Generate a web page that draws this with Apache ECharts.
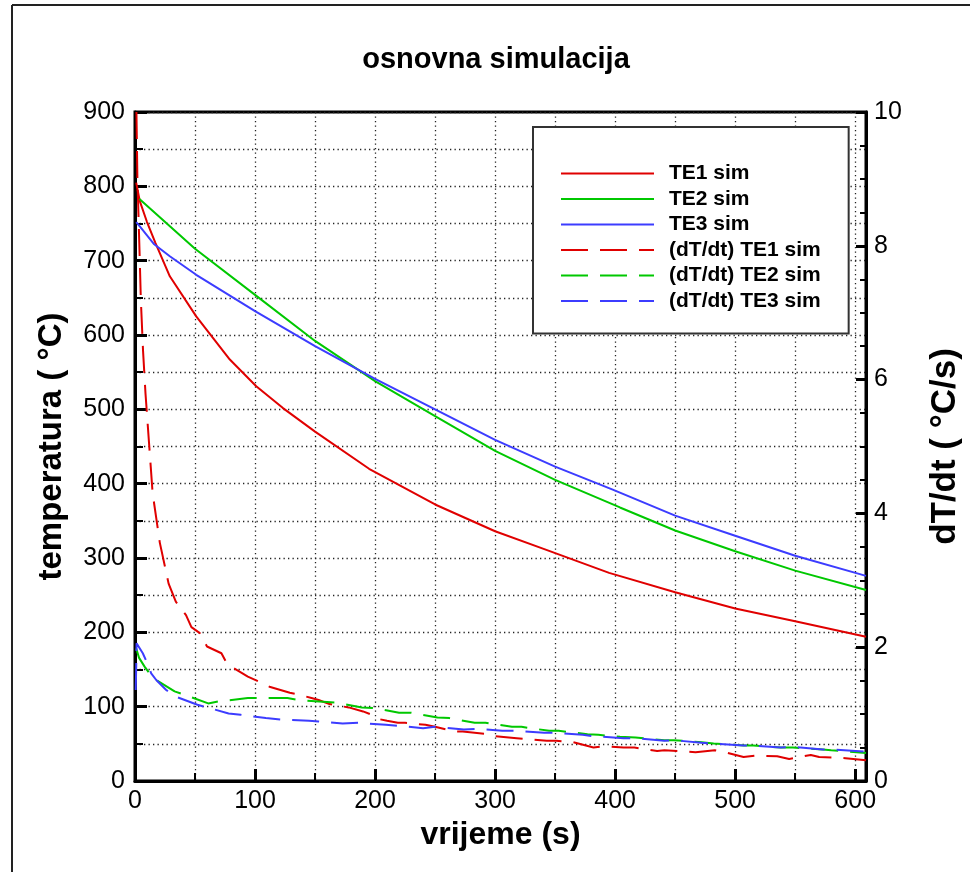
<!DOCTYPE html>
<html><head><meta charset="utf-8">
<script src="https://cdn.jsdelivr.net/npm/echarts@6/dist/echarts.min.js"></script>
<style>html,body{margin:0;padding:0;background:#fff}#c{width:970px;height:872px}</style>
</head><body><div id="c"></div>
<script>
// ---- data ----
const seriesNames = ['TE1 sim', 'TE2 sim', 'TE3 sim', '(dT/dt) TE1 sim', '(dT/dt) TE2 sim', '(dT/dt) TE3 sim'];
const xTicks = [0, 100, 200, 300, 400, 500, 600];
const yLeftTicks = [0, 100, 200, 300, 400, 500, 600, 700, 800, 900];
const yRightTicks = [0, 2, 4, 6, 8, 10];

const te1X = [1, 4, 10, 17, 29, 51, 79, 101, 123, 150, 195, 250, 300, 341, 395, 450, 500, 550, 609];
const te1Y = [805, 780, 752, 724, 679, 625, 567, 531, 502, 470, 420, 372, 336, 312, 280, 254, 232, 215, 194];

const te2X = [3.7, 50, 100, 150, 200, 250, 300, 350, 404, 450, 500, 550, 609];
const te2Y = [783, 716, 654, 592, 538, 491, 444, 405, 368, 337, 309, 283, 257];

const te3X = [1, 4, 16, 29, 51, 100, 150, 200, 250, 300, 350, 398, 450, 500, 550, 609];
const te3Y = [752, 746, 722, 706, 681, 632, 585, 541, 500, 459, 423, 392, 357, 330, 303, 276];

const d1X = [1.2, 2, 3, 3.75, 4.9, 6.7, 8.75, 11.7, 14.7, 20.7, 28, 34, 42.5, 47, 54, 60, 72, 77, 88.5, 94, 105, 112, 129, 137, 147, 153, 162, 168, 178, 190, 196, 202, 210, 219, 225, 242, 250, 266, 273, 294, 300, 318, 324, 343, 351, 365, 382, 390, 407, 416, 435, 441, 458, 467, 483, 489, 507, 517, 535, 545, 563, 570, 584, 592, 609];
const d1Y = [10, 9.0, 8.4, 7.93, 7.18, 6.43, 5.79, 5.05, 4.30, 3.56, 2.95, 2.68, 2.48, 2.30, 2.21, 2.01, 1.91, 1.74, 1.62, 1.56, 1.47, 1.41, 1.32, 1.29, 1.24, 1.21, 1.15, 1.13, 1.10, 1.04, 1.00, 0.93, 0.90, 0.87, 0.87, 0.84, 0.81, 0.74, 0.74, 0.70, 0.67, 0.64, 0.63, 0.60, 0.60, 0.58, 0.50, 0.52, 0.50, 0.50, 0.45, 0.46, 0.44, 0.43, 0.46, 0.44, 0.36, 0.38, 0.37, 0.33, 0.39, 0.36, 0.35, 0.34, 0.31];

const d2X = [1, 1.5, 3.4, 8, 12, 17.7, 33, 41, 61, 70, 94, 102, 127, 136, 160, 168, 189, 199, 220, 230, 252, 262, 283, 292, 314, 322, 345, 353, 377, 386, 404, 417, 441, 449, 472, 482, 507, 515, 538, 548, 573, 580, 609];
const d2Y = [1.98, 1.96, 1.84, 1.71, 1.61, 1.51, 1.34, 1.29, 1.16, 1.19, 1.24, 1.24, 1.24, 1.21, 1.18, 1.17, 1.10, 1.09, 1.02, 1.02, 0.95, 0.94, 0.87, 0.87, 0.81, 0.81, 0.75, 0.75, 0.70, 0.69, 0.66, 0.65, 0.61, 0.61, 0.58, 0.56, 0.53, 0.53, 0.50, 0.50, 0.47, 0.46, 0.42];

const d3X = [0.6, 1, 1.3, 6.5, 10.7, 13.5, 17.7, 26, 34, 52, 60, 78, 88, 109, 121, 145, 153, 173, 186, 209, 216, 240, 250, 274, 285, 306, 317, 341, 349, 373, 382, 407, 417, 441, 449, 472, 482, 507, 515, 538, 548, 573, 580, 609];
const d3Y = [1.36, 1.7, 2.06, 1.91, 1.74, 1.61, 1.51, 1.36, 1.26, 1.14, 1.10, 1.01, 0.99, 0.94, 0.92, 0.90, 0.89, 0.86, 0.87, 0.84, 0.83, 0.79, 0.81, 0.77, 0.78, 0.75, 0.75, 0.72, 0.72, 0.69, 0.67, 0.64, 0.64, 0.60, 0.61, 0.57, 0.56, 0.53, 0.53, 0.50, 0.51, 0.47, 0.47, 0.44];

// ---- chart ----
function pairs(xs, ys) { return xs.map((x, i) => [x, ys[i]]); }
const FONT = '"Liberation Sans", Arial, Helvetica, sans-serif';
const RED = '#e00000', GREEN = '#00c800', BLUE = '#3c3cff';
const DASH = [27, 12];
const dotted = { color: '#222', width: 1.3, type: [1.3, 3.2] };

function mkSeries(name, xs, ys, color, dashed, yIdx) {
  return {
    name: name, type: 'line', yAxisIndex: yIdx, data: pairs(xs, ys),
    symbol: 'none', showSymbol: false, clip: true, z: 3,
    lineStyle: { color: color, width: 2, type: dashed ? DASH : 'solid' },
    itemStyle: { color: color }
  };
}

const chart = echarts.init(document.getElementById('c'), null, { renderer: 'canvas' });
chart.setOption({
  backgroundColor: '#fff',
  animation: false,
  title: {
    text: 'osnovna simulacija', left: 491, top: 40, textAlign: 'center',
    textStyle: { fontFamily: FONT, fontSize: 29, fontWeight: 'bold', color: '#000' }
  },
  legend: {
    data: seriesNames, orient: 'vertical', left: 533, top: 127,
    padding: [36, 28, 22, 27], itemWidth: 93, itemHeight: 14, itemGap: 4.5,
    borderColor: '#333', borderWidth: 2, backgroundColor: '#fff',
    itemStyle: { opacity: 0, borderWidth: 0 },
    textStyle: { fontFamily: FONT, fontSize: 21, fontWeight: 'bold', color: '#000', padding: [0, 0, 0, 10] },
    selectedMode: false
  },
  grid: { left: 135, top: 112, width: 731, height: 669, show: true, borderColor: '#000', borderWidth: 3,
    backgroundColor: 'transparent', containLabel: false, outerBoundsMode: 'none' },
  xAxis: {
    type: 'value', min: xTicks[0], max: 609, interval: 100,
    name: 'vrijeme (s)', nameLocation: 'middle', nameGap: 37,
    nameTextStyle: { fontFamily: FONT, fontSize: 32, fontWeight: 'bold', color: '#000' },
    axisLine: { show: true, lineStyle: { color: '#000', width: 3 } },
    axisTick: { show: true, inside: true, length: 12, lineStyle: { color: '#000', width: 3 } },
    minorTick: { show: true, splitNumber: 2, length: 8, lineStyle: { color: '#000', width: 2 } },
    splitLine: { show: true, lineStyle: dotted },
    minorSplitLine: { show: true, lineStyle: dotted },
    axisLabel: { fontFamily: FONT, fontSize: 25, color: '#000', margin: 8,
      formatter: v => xTicks.indexOf(v) >= 0 ? String(v) : '' }
  },
  yAxis: [{
    type: 'value', min: yLeftTicks[0], max: yLeftTicks[yLeftTicks.length - 1], interval: 100, position: 'left',
    name: 'temperatura ( °C)', nameLocation: 'middle', nameGap: 67, nameRotate: 90,
    nameTextStyle: { fontFamily: FONT, fontSize: 33, fontWeight: 'bold', color: '#000' },
    axisLine: { show: true, lineStyle: { color: '#000', width: 3 } },
    axisTick: { show: true, inside: true, length: 12, lineStyle: { color: '#000', width: 3 } },
    minorTick: { show: true, splitNumber: 2, length: 8, lineStyle: { color: '#000', width: 2 } },
    splitLine: { show: true, lineStyle: dotted },
    minorSplitLine: { show: true, lineStyle: dotted },
    axisLabel: { fontFamily: FONT, fontSize: 25, color: '#000', margin: 10,
      formatter: v => yLeftTicks.indexOf(v) >= 0 ? String(v) : '' }
  }, {
    type: 'value', min: yRightTicks[0], max: yRightTicks[yRightTicks.length - 1], interval: 2, position: 'right',
    name: 'dT/dt ( °C/s)', nameLocation: 'middle', nameGap: 62, nameRotate: 90,
    nameTextStyle: { fontFamily: FONT, fontSize: 35, fontWeight: 'bold', color: '#000' },
    axisLine: { show: true, lineStyle: { color: '#000', width: 3 } },
    axisTick: { show: true, inside: true, length: 10, lineStyle: { color: '#000', width: 3 } },
    minorTick: { show: true, splitNumber: 4, length: 6, lineStyle: { color: '#000', width: 2 } },
    splitLine: { show: false },
    axisLabel: { fontFamily: FONT, fontSize: 25, color: '#000', margin: 8,
      formatter: v => yRightTicks.indexOf(v) >= 0 ? String(v) : '' }
  }],
  graphic: [
    { type: 'line', shape: { x1: 12, y1: 5, x2: 970, y2: 5 }, style: { stroke: '#222', lineWidth: 2 } },
    { type: 'line', shape: { x1: 12, y1: 5, x2: 12, y2: 872 }, style: { stroke: '#222', lineWidth: 2 } }
  ],
  series: [
    mkSeries(seriesNames[0], te1X, te1Y, RED, false, 0),
    mkSeries(seriesNames[1], te2X, te2Y, GREEN, false, 0),
    mkSeries(seriesNames[2], te3X, te3Y, BLUE, false, 0),
    mkSeries(seriesNames[3], d1X, d1Y, RED, true, 1),
    mkSeries(seriesNames[4], d2X, d2Y, GREEN, true, 1),
    mkSeries(seriesNames[5], d3X, d3Y, BLUE, true, 1)
  ]
});
</script>
</body></html>
